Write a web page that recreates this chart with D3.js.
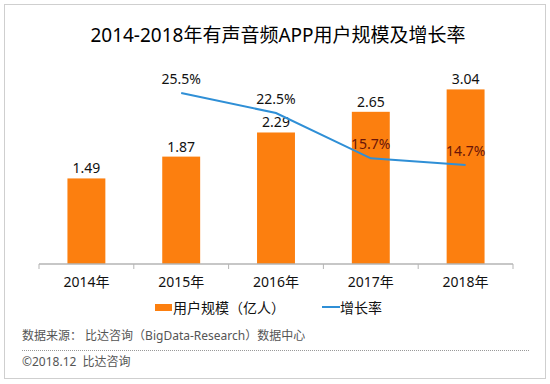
<!DOCTYPE html>
<html>
<head>
<meta charset="utf-8">
<script src="https://cdn.jsdelivr.net/npm/d3@7"></script>
<style>
  body { margin: 0; background: #fff; }
  text { font-family: "Noto Sans", "Noto Sans CJK SC", sans-serif; white-space: pre; }
</style>
</head>
<body>
<script>
let width = 550
let height = 384

// data
const years = ["2014年", "2015年", "2016年", "2017年", "2018年"]
const users = [1.49, 1.87, 2.29, 2.65, 3.04]
const growthYears = ["2015年", "2016年", "2017年", "2018年"]
const growth = [25.5, 22.5, 15.7, 14.7]

const svg = d3.select("body")
    .append('svg')
    .attr('width', width)
    .attr('height', height)

// frame
svg.append('rect')
    .attr('x', 4.5).attr('y', 4.5)
    .attr('width', 541).attr('height', 374)
    .attr('fill', '#fff')
    .attr('stroke', '#cfcfcf')

svg.append('text')
    .attr('x', 278)
    .attr('y', 42)
    .attr('text-anchor', 'middle')
    .style('font-size', '19px')
    .attr('fill', '#000')
    .text('2014-2018年有声音频APP用户规模及增长率')

const x = d3.scaleBand()
    .domain(years)
    .range([39, 513])
    .paddingInner(0.6)
    .paddingOuter(0.3)

const y = d3.scaleLinear().domain([0, 3.5]).range([264, 63])
const y2 = d3.scaleLinear().domain([0, 30]).range([263, 63])

// bars
svg.selectAll('.bar')
    .data(users)
    .enter()
    .append('rect')
        .attr('x', (d, i) => x(years[i]))
        .attr('y', d => y(d))
        .attr('width', x.bandwidth())
        .attr('height', d => y(0) - y(d))
        .attr('fill', '#fc7f0f')

svg.selectAll('.barlabel')
    .data(users)
    .enter()
    .append('text')
        .attr('x', (d, i) => x(years[i]) + x.bandwidth() / 2)
        .attr('y', d => y(d) - 5)
        .attr('text-anchor', 'middle')
        .style('font-size', '14px')
        .attr('fill', '#111')
        .text(d => d.toFixed(2))

// x axis
const xAxis = svg.append('g')
    .attr('transform', 'translate(0,' + y(0) + ')')
xAxis.append('line')
    .attr('x1', 39).attr('x2', 513)
    .attr('stroke', '#b5b5b5')
    .attr('stroke-width', 1.5)
const bounds = years.map(d => x(d) - x.step() * x.paddingInner() / 2)
bounds.push(513)
xAxis.selectAll('.tick')
    .data(bounds)
    .enter()
    .append('line')
        .attr('x1', d => d).attr('x2', d => d)
        .attr('y1', 0).attr('y2', 5)
        .attr('stroke', '#b5b5b5')
xAxis.selectAll('.xlabel')
    .data(years)
    .enter()
    .append('text')
        .attr('x', d => x(d) + x.bandwidth() / 2)
        .attr('y', 23)
        .attr('text-anchor', 'middle')
        .style('font-size', '14px')
        .attr('fill', '#111')
        .text(d => d)

// growth line
const cx = d => x(d) + x.bandwidth() / 2
const line = d3.line()
    .x((d, i) => cx(growthYears[i]))
    .y(d => y2(d))
svg.append('path')
    .datum(growth)
    .attr('d', line)
    .attr('fill', 'none')
    .attr('stroke', '#2f8fd6')
    .attr('stroke-width', 2)

svg.selectAll('.glabel')
    .data(growth)
    .enter()
    .append('text')
        .attr('x', (d, i) => cx(growthYears[i]))
        .attr('y', d => y2(d) - 9)
        .attr('text-anchor', 'middle')
        .style('font-size', '14px')
        .attr('fill', (d, i) => i >= 2 ? '#6a1508' : '#111')
        .text(d => d.toFixed(1) + '%')

// legend
const lg = svg.append('g')
lg.append('rect')
    .attr('x', 155).attr('y', 304)
    .attr('width', 17).attr('height', 7)
    .attr('fill', '#fc7f0f')
lg.append('text')
    .attr('x', 173).attr('y', 312.5)
    .style('font-size', '14px')
    .attr('fill', '#111')
    .text('用户规模（亿人）')
lg.append('line')
    .attr('x1', 322).attr('x2', 340)
    .attr('y1', 307).attr('y2', 307)
    .attr('stroke', '#2f8fd6')
    .attr('stroke-width', 2)
lg.append('text')
    .attr('x', 340).attr('y', 312.5)
    .style('font-size', '14px')
    .attr('fill', '#111')
    .text('增长率')

// footer
svg.append('text')
    .attr('x', 22).attr('y', 339.5)
    .style('font-size', '12px')
    .attr('fill', '#555')
    .text('数据来源： 比达咨询（BigData-Research）数据中心')
svg.append('line')
    .attr('x1', 22).attr('x2', 530)
    .attr('y1', 350.5).attr('y2', 350.5)
    .attr('stroke', '#999')
    .attr('stroke-dasharray', '1,1')
svg.append('text')
    .attr('x', 22).attr('y', 365.5)
    .style('font-size', '12px')
    .attr('fill', '#555')
    .text('©2018.12  比达咨询')
</script>
</body>
</html>
